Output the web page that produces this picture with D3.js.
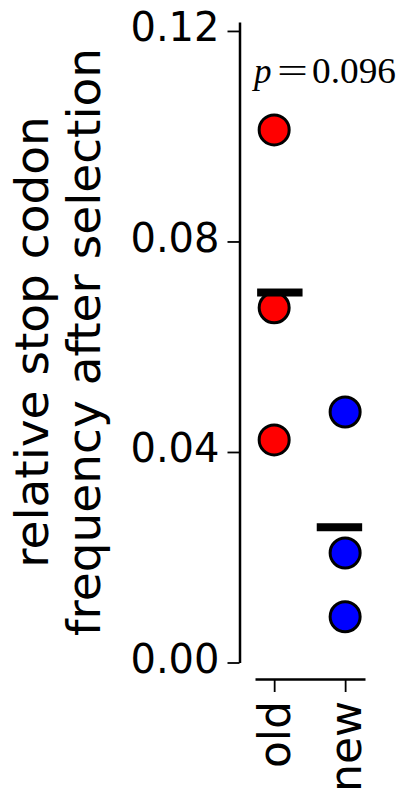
<!DOCTYPE html>
<html>
<head>
<meta charset="utf-8">
<script src="https://cdn.jsdelivr.net/npm/d3@7"></script>
<style>
  html, body { margin: 0; padding: 0; background: #fff; }
  svg { display: block; }
</style>
</head>
<body>
<svg id="chart" width="401" height="792"></svg>
<script>
// categories and per-category measurements
const categories = ['old', 'new']
const oldValues = [0.1012, 0.0674, 0.0423]
const newValues = [0.0476, 0.0208, 0.0087]
const seriesColors = ['#ff0000', '#0000ff']
const yTicks = [0.00, 0.04, 0.08, 0.12]
const yLabelLines = ['relative stop codon', 'frequency after selection']
const pValueText = '0.096'

const groups = categories.map((c, i) => ({
  name: c,
  index: i,
  values: i === 0 ? oldValues : newValues,
  color: seriesColors[i]
}))

const width = 401
const height = 792

const svg = d3.select('#chart')
  .attr('width', width)
  .attr('height', height)

// scales
const y = d3.scaleLinear()
  .domain([0, 0.1217])
  .range([662.5, 22])

const x = d3.scaleLinear()
  .domain([-0.27, 1.28])
  .range([255, 365])

const axisX = 239.5
const axisY = 679

// y axis
const yAxis = svg.append('g')
  .attr('transform', `translate(${axisX},0)`)
  .call(d3.axisLeft(y)
    .tickValues(yTicks)
    .tickFormat(d3.format('.2f'))
    .tickSize(12)
    .tickSizeOuter(0)
    .tickPadding(8))

yAxis.select('.domain')
  .attr('stroke', '#000')
  .attr('stroke-width', 2.5)
yAxis.selectAll('.tick line')
  .attr('stroke', '#000')
  .attr('stroke-width', 1.8)
yAxis.selectAll('.tick text')
  .attr('dy', 10)
  .style('font-family', '"DejaVu Sans", sans-serif')
  .style('font-size', '40px')
  .attr('fill', '#000')

// x axis
const xAxis = svg.append('g')
  .attr('transform', `translate(0,${axisY})`)
  .call(d3.axisBottom(x)
    .tickValues(groups.map(g => g.index))
    .tickFormat(i => categories[i])
    .tickSize(13)
    .tickSizeOuter(0))

xAxis.select('.domain')
  .attr('stroke', '#000')
  .attr('stroke-width', 2.5)
xAxis.selectAll('.tick line')
  .attr('stroke', '#000')
  .attr('stroke-width', 1.8)
xAxis.selectAll('.tick text')
  .attr('transform', 'rotate(-90)')
  .attr('x', -22)
  .attr('y', 15)
  .attr('dy', 0)
  .attr('text-anchor', 'end')
  .style('font-family', '"DejaVu Sans", sans-serif')
  .style('font-size', '44px')
  .attr('fill', '#000')

// y axis label (two lines)
const yLabel = svg.append('text')
  .attr('transform', 'translate(48,342) rotate(-90)')
  .attr('text-anchor', 'middle')
  .style('font-family', '"DejaVu Sans", sans-serif')
  .style('font-size', '47px')
  .attr('fill', '#000')

yLabel.selectAll('tspan')
  .data(yLabelLines)
  .join('tspan')
  .attr('x', 0)
  .attr('y', (d, i) => i * 52)
  .text(d => d)

// points
const points = groups.flatMap(g => g.values.map(v => ({ group: g, value: v })))

svg.append('g')
  .selectAll('circle')
  .data(points)
  .join('circle')
  .attr('cx', d => x(d.group.index))
  .attr('cy', d => y(d.value))
  .attr('r', 15)
  .attr('fill', d => d.group.color)
  .attr('stroke', '#000')
  .attr('stroke-width', 3)

// mean bars, nudged toward the middle
const meanOffset = 0.08
const barHalf = 0.32

svg.append('g')
  .selectAll('rect')
  .data(groups)
  .join('rect')
  .attr('x', d => x(d.index + (d.index === 0 ? meanOffset : -meanOffset) - barHalf))
  .attr('y', d => y(d3.mean(d.values)) - 4)
  .attr('width', x(barHalf * 2) - x(0))
  .attr('height', 8)
  .attr('fill', '#000')

// p value annotation
const pText = svg.append('g')
  .style('font-family', '"Liberation Serif", "DejaVu Serif", serif')
  .style('font-size', '35px')
  .attr('fill', '#000')

pText.append('text')
  .attr('x', 254)
  .attr('y', 83)
  .style('font-style', 'italic')
  .text('p')

pText.append('text')
  .attr('x', 277)
  .attr('y', 83)
  .attr('textLength', 31)
  .attr('lengthAdjust', 'spacingAndGlyphs')
  .text('=')

pText.append('text')
  .attr('x', 312)
  .attr('y', 83)
  .attr('textLength', 84)
  .attr('lengthAdjust', 'spacingAndGlyphs')
  .text(pValueText)
</script>
</body>
</html>
